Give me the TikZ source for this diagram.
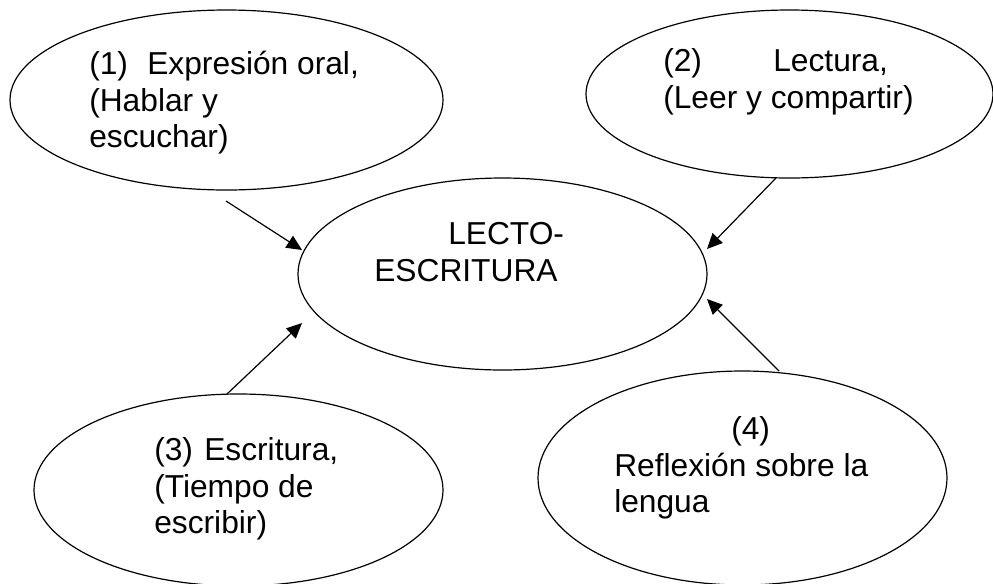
\documentclass[tikz,border=0pt]{standalone}
\usepackage{fontspec}
\setmainfont{Liberation Sans}
\usetikzlibrary{shapes.geometric,arrows.meta}
\tikzset{
  oval/.style={draw=black,line width=0.9pt,ellipse,inner sep=0pt,outer sep=0pt},
  lbl/.style={font=\fontsize{23.8}{28}\selectfont,anchor=base west,inner sep=0pt,text=black},
  conn/.style={draw=black,line width=0.9pt,-{Stealth[length=11.5pt,width=10.5pt,inset=0pt]}}
}
\begin{document}
\begin{tikzpicture}[x=0.75pt,y=-0.75pt]
\useasboundingbox (0,0) rectangle (993,583);
\node[oval,minimum width=324.75pt,minimum height=135pt] (e1) at (226.5,100) {};
\node[oval,minimum width=305.25pt,minimum height=126pt] (e2) at (789.5,94) {};
\node[oval,minimum width=306.75pt,minimum height=144pt] (c) at (502.5,274) {};
\node[oval,minimum width=306.75pt,minimum height=144pt] (e3) at (238.5,490) {};
\node[oval,minimum width=306.75pt,minimum height=160.5pt] (e4) at (742.5,478) {};
\coordinate (a1) at (226,201);
\coordinate (a2) at (776,178);
\coordinate (a3) at (227,394);
\coordinate (a4) at (779,371);
\coordinate (b1) at (302,250);
\coordinate (b2) at (707,249);
\coordinate (b3) at (302,323);
\coordinate (b4) at (707,299);
\draw[conn] (a1) -- (b1);
\draw[conn] (a2) -- (b2);
\draw[conn] (a3) -- (b3);
\draw[conn] (a4) -- (b4);
\node[lbl] (t1a) at (89,74) {(1)};
\node[lbl] (t1b) at (147,74) {Expresión oral,};
\node[lbl] (t1c) at (89,111) {(Hablar y};
\node[lbl] (t1d) at (89,147.5) {escuchar)};
\node[lbl] (t2a) at (663,71.5) {(2)};
\node[lbl] (t2b) at (773,71.5) {Lectura,};
\node[lbl] (t2c) at (663,108) {(Leer y compartir)};
\node[lbl] (t0a) at (448,244) {LECTO-};
\node[lbl] (t0b) at (374,281) {ESCRITURA};
\node[lbl] (t3a) at (154,460) {(3)};
\node[lbl] (t3b) at (204,460) {Escritura,};
\node[lbl] (t3c) at (154,497) {(Tiempo de};
\node[lbl] (t3d) at (154,533) {escribir)};
\node[lbl] (t4a) at (731,439) {(4)};
\node[lbl] (t4b) at (614,476) {Reflexión sobre la};
\node[lbl] (t4c) at (614,512) {lengua};
\end{tikzpicture}
\end{document}
